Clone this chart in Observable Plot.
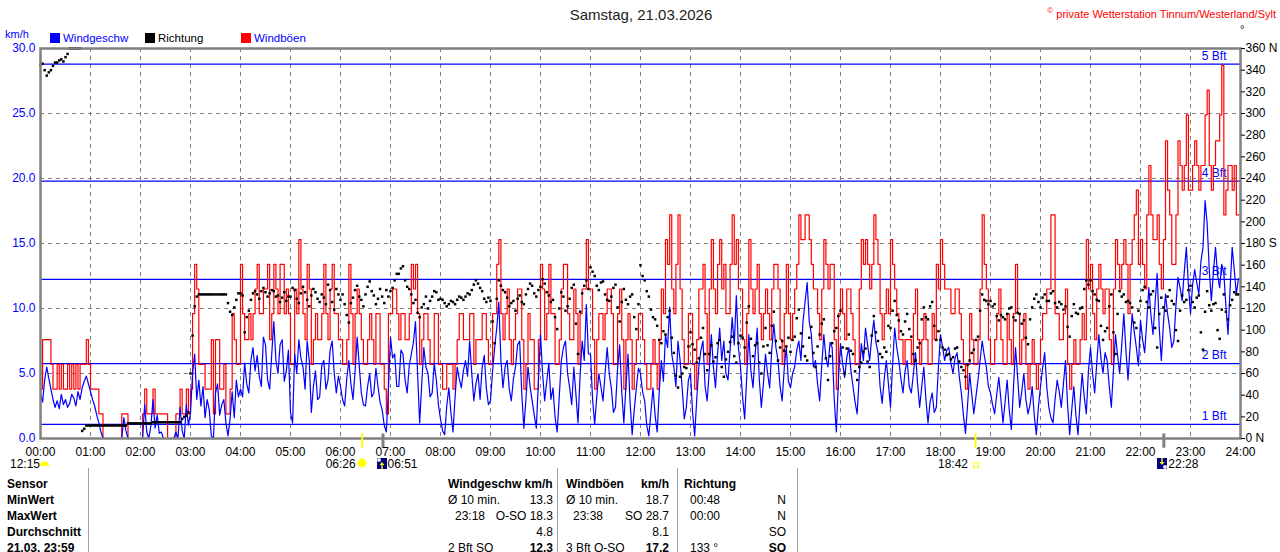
<!DOCTYPE html>
<html><head><meta charset="utf-8">
<script src="https://cdn.jsdelivr.net/npm/d3@7"></script>
<script src="https://cdn.jsdelivr.net/npm/@observablehq/plot@0.6"></script>
<style>
body{margin:0;background:#fff;font-family:"Liberation Sans",Arial,sans-serif;}
#wrap{position:relative;width:1280px;height:552px;overflow:hidden;background:#fff}
.abs{position:absolute;white-space:nowrap;line-height:14px}
#wrap svg{position:absolute;left:0;top:0;overflow:visible}
.b{font-weight:bold}
.sep{position:absolute;width:1px;background:#a0a0a0;top:468px;height:84px}
</style></head><body><div id="wrap"></div>
<script>
// wind and gust: 2.5-minute samples 00:00 .. 23:57.5 (one row per hour)
const speedStep = 2.5;
const windSpeed = [
 3.5,2.8,4.5,5.5,4.6,3.8,3.0,2.4,2.9,2.3,3.4,2.6,3.0,2.4,2.7,3.4,3.1,2.5,3.6,3.0,3.9,4.4,4.8,4.2,
 3.6,3.0,2.5,1.8,1.2,0.5,0,0,0,0,0,0,0,0,0,0,1.6,0.6,0,0,0,0,0,0,
 0,0,2.6,0.5,0,1.0,3.0,0.8,1.8,0.4,0.5,0,0,0,0,0,0,0.5,0,2.4,0.6,0,2.6,1.0,
 2.0,5.0,6.5,3.0,4.5,2.5,4.0,1.6,3.0,2.2,0.2,0,3.5,4.2,1.8,2.6,3.0,1.2,0.2,1.5,3.6,1.6,4.5,3.2,
 3.8,3.2,5.8,4.2,3.5,6.0,7.0,5.2,6.4,4.8,4.0,7.8,7.2,4.5,3.8,6.5,9.0,6.0,5.0,7.2,7.6,4.4,5.2,6.8,
 2.0,1.2,6.5,5.0,7.6,6.2,5.5,3.8,7.5,6.0,2.0,4.0,5.2,3.0,3.2,5.6,6.0,3.8,4.5,6.8,7.5,5.0,3.5,4.8,
 4.0,3.0,2.5,4.6,6.0,4.2,3.0,5.2,7.8,5.6,3.5,2.6,2.5,4.0,5.0,3.2,3.5,5.4,4.0,2.8,2.2,1.0,0.5,3.8,
 7.8,6.2,6.5,4.0,4.0,6.8,6.5,4.5,3.5,5.6,6.5,7.4,9.0,5.0,1.2,4.2,7.0,5.5,5.0,3.2,3.5,5.8,4.5,2.6,
 1.5,0.6,0.3,2.5,3.9,2.0,0.5,3.2,5.5,4.6,3.9,5.2,6.0,4.8,7.5,5.0,2.9,4.2,5.0,3.0,5.5,6.4,3.9,2.6,
 2.9,5.2,7.0,8.5,10.5,6.0,3.9,5.5,6.0,3.8,2.9,4.6,5.5,7.2,7.5,3.5,0.8,3.0,5.5,4.0,2.9,1.8,0.8,4.4,
 8.0,5.0,2.9,4.4,5.8,3.0,3.9,1.6,0.5,3.2,6.0,7.0,7.5,5.0,3.9,2.6,5.5,3.4,1.2,4.8,7.5,6.0,10.3,6.5,
 6.5,3.0,1.1,3.2,5.0,4.0,2.9,5.0,7.0,5.0,3.9,2.0,2.4,5.4,7.2,3.6,1.2,4.0,6.5,2.8,0.3,2.2,3.9,5.4,
 5.0,3.6,2.9,1.0,0.2,2.0,3.9,1.8,0.5,3.6,6.0,4.4,8.0,7.0,10.1,6.5,5.5,4.0,7.5,6.0,3.9,1.5,2.4,4.5,
 5.0,2.0,0.2,3.0,5.5,6.8,7.5,4.0,2.9,5.2,8.0,5.5,3.9,6.5,8.5,6.0,7.5,5.0,4.5,6.8,9.3,7.2,11.0,7.0,
 5.5,3.2,1.5,4.8,8.0,5.2,3.9,6.4,8.5,4.6,2.4,4.2,6.5,5.0,3.9,6.8,8.8,7.0,6.0,4.0,2.9,5.4,7.0,4.4,
 3.9,5.0,5.5,6.8,7.5,6.0,9.0,10.5,12.0,9.0,8.0,5.5,6.0,4.2,2.9,5.6,8.0,6.2,5.5,7.4,7.0,3.0,0.5,4.5,
 7.3,5.8,4.7,6.2,7.0,5.2,4.0,2.8,1.9,4.8,7.3,6.0,8.5,7.2,6.0,7.8,9.1,7.4,6.6,4.0,2.7,4.6,6.0,4.2,
 2.4,5.6,8.5,7.0,6.0,4.6,3.5,5.2,6.0,4.0,3.5,5.0,6.6,4.2,2.4,4.0,5.5,3.0,1.2,2.8,3.5,2.0,2.4,5.5,
 8.0,7.0,6.0,6.8,7.0,5.8,5.0,6.2,6.6,4.8,3.5,1.8,0.4,2.6,5.0,3.4,1.9,3.2,4.5,6.0,7.5,6.4,5.5,4.0,
 3.5,2.6,1.9,3.4,4.7,3.0,1.2,2.8,4.5,2.2,0.7,3.8,7.0,4.8,2.4,3.6,5.0,3.0,1.9,2.6,4.0,1.8,0.3,2.4,
 4.0,5.4,6.6,4.0,2.4,1.6,1.2,3.0,4.5,3.6,2.4,4.2,6.0,2.6,0.3,2.2,4.0,1.8,0.3,2.8,5.0,3.2,1.9,5.2,
 7.0,5.0,3.5,5.8,8.0,6.2,5.0,6.6,6.0,4.0,2.4,5.2,8.0,6.4,5.0,7.2,9.6,6.8,4.5,7.0,9.6,8.2,7.0,5.6,
 9.1,7.6,6.6,9.0,11.6,9.5,8.0,10.4,12.7,8.5,6.0,8.8,11.1,9.6,8.5,7.0,7.5,10.2,12.4,11.6,10.6,12.8,14.7,11.8,
 9.6,11.8,13.0,12.0,11.1,13.6,14.7,18.3,16.5,13.0,10.6,12.8,14.7,12.6,11.6,13.4,12.7,10.2,8.0,11.5,14.7,13.0,11.1,12.3
];
const gusts = [
 3.8,7.6,7.6,7.6,7.6,5.7,3.8,3.8,5.7,3.8,5.7,3.8,3.8,5.7,3.8,5.7,3.8,5.7,3.8,5.7,5.7,5.7,7.6,5.7,
 3.8,3.8,3.8,3.8,1.9,1.9,0,0,0,0,0,0,0,0,0,1.9,1.9,1.9,0,0,0,0,0,0,
 0,1.9,3.8,1.9,1.9,1.9,3.8,1.9,1.9,1.9,1.9,1.9,1.9,0,0,0,0,1.9,1.9,3.8,1.9,1.9,3.8,1.9,
 3.8,9.6,13.4,11.5,5.7,5.7,5.7,3.8,3.8,3.8,7.6,1.9,7.6,7.6,3.8,3.8,5.7,1.9,1.9,3.8,9.6,7.6,5.7,5.7,
 13.4,9.6,7.6,7.6,9.6,7.6,9.6,11.5,13.4,9.6,9.6,11.5,11.5,13.4,7.6,9.6,13.4,11.5,9.6,13.4,13.4,9.6,11.5,9.6,
 5.7,5.7,11.5,9.6,15.3,11.5,9.6,7.6,13.4,11.5,5.7,7.6,9.6,7.6,7.6,9.6,13.4,9.6,7.6,11.5,13.4,9.6,9.6,7.6,
 7.6,5.7,5.7,7.6,13.4,9.6,5.7,9.6,11.5,9.6,7.6,5.7,5.7,7.6,9.6,7.6,5.7,9.6,9.6,5.7,5.7,3.8,1.9,9.6,
 9.6,11.5,11.5,9.6,7.6,9.6,9.6,7.6,7.6,9.6,13.4,11.5,13.4,9.6,5.7,7.6,9.6,9.6,7.6,5.7,5.7,9.6,9.6,5.7,
 5.7,3.8,3.8,5.7,5.7,5.7,3.8,5.7,7.6,9.6,9.6,7.6,7.6,7.6,9.6,9.6,5.7,7.6,7.6,7.6,9.6,9.6,7.6,5.7,
 5.7,9.6,9.6,13.4,15.3,9.6,7.6,9.6,11.5,7.6,5.7,7.6,9.6,11.5,11.5,7.6,3.8,5.7,9.6,7.6,7.6,3.8,3.8,7.6,
 13.4,11.5,7.6,9.6,13.4,9.6,9.6,5.7,5.7,7.6,11.5,13.4,13.4,9.6,7.6,7.6,11.5,9.6,5.7,9.6,11.5,11.5,15.3,11.5,
 11.5,7.6,3.8,7.6,9.6,9.6,7.6,9.6,11.5,11.5,9.6,5.7,5.7,9.6,11.5,7.6,3.8,7.6,9.6,7.6,3.8,5.7,7.6,9.6,
 9.6,7.6,5.7,3.8,3.8,5.7,7.6,5.7,3.8,7.6,11.5,9.6,15.3,13.4,17.2,11.5,9.6,13.4,17.2,11.5,7.6,5.7,5.7,9.6,
 9.6,5.7,3.8,7.6,11.5,11.5,13.4,9.6,5.7,11.5,15.3,11.5,9.6,13.4,15.3,11.5,13.4,9.6,9.6,13.4,17.2,13.4,15.3,11.5,
 11.5,7.6,5.7,9.6,15.3,11.5,9.6,11.5,13.4,9.6,7.6,9.6,11.5,9.6,7.6,11.5,13.4,13.4,11.5,7.6,5.7,9.6,13.4,9.6,
 7.6,9.6,11.5,13.4,17.2,15.3,15.3,17.2,17.2,15.3,13.4,11.5,11.5,9.6,7.6,11.5,15.3,13.4,11.5,13.4,13.4,7.6,3.8,9.6,
 11.5,9.6,7.6,11.5,11.5,9.6,7.6,5.7,5.7,11.5,15.3,13.4,15.3,13.4,11.5,13.4,17.2,15.3,13.4,9.6,7.6,9.6,11.5,9.6,
 15.3,13.4,11.5,9.6,7.6,7.6,5.7,7.6,7.6,7.6,5.7,9.6,11.5,7.6,5.7,7.6,9.6,7.6,5.7,5.7,9.6,7.6,13.4,11.5,
 15.3,13.4,11.5,11.5,11.5,9.6,9.6,11.5,11.5,9.6,7.6,5.7,3.8,5.7,9.6,7.6,5.7,5.7,7.6,11.5,17.2,13.4,11.5,7.6,
 5.7,5.7,7.6,9.6,11.5,7.6,5.7,5.7,9.6,7.6,5.7,9.6,13.4,9.6,5.7,7.6,9.6,5.7,3.8,5.7,7.6,5.7,3.8,5.7,
 7.6,9.6,9.6,11.5,11.5,17.2,17.2,9.6,9.6,7.6,7.6,9.6,11.5,5.7,3.8,5.7,7.6,5.7,5.7,7.6,9.6,7.6,15.3,11.5,
 13.4,9.6,7.6,11.5,13.4,11.5,9.6,11.5,11.5,7.6,5.7,11.5,15.3,13.4,11.5,13.4,15.3,13.4,9.6,13.4,15.3,17.2,19.1,13.4,
 15.3,13.4,11.5,17.2,21.0,17.2,15.3,15.3,17.2,13.4,11.5,15.3,22.9,19.1,17.2,13.4,13.4,17.2,22.9,21.0,19.1,21.0,24.9,19.1,
 19.1,21.0,22.9,21.0,19.1,21.0,21.0,24.9,26.8,21.0,19.1,21.0,22.9,22.9,24.9,28.7,17.2,19.1,21.0,21.0,19.1,21.0,17.2,17.2
];
// wind direction: 2.5-minute samples (degrees)
const dirStep = 2.5;
const direction = [
 345,346,340,335,338,340,344,347,347,349,350,348,352,355,360,360,360,360,360,360,7,9,12,12,
 12,12,12,12,12,12,12,12,12,12,12,12,12,12,12,12,12,12,14,14,14,14,14,14,
 14,14,14,14,14,14,15,15,15,15,15,15,15,15,15,15,15,15,15,15,18,20,21,24,
 60,95,122,131,133,133,133,133,133,133,133,133,133,133,133,133,133,133,125,117,114,121,128,134,
 134,132,98,112,118,128,134,136,133,129,136,139,135,131,134,137,136,131,132,126,130,135,127,131,
 131,139,137,129,125,134,140,135,128,122,132,138,135,129,126,133,130,124,142,137,126,119,138,133,
 128,133,124,114,107,125,130,137,141,131,128,122,133,140,145,136,132,124,129,138,131,125,137,131,
 136,139,146,152,152,157,159,146,140,138,133,125,128,116,112,121,124,131,120,127,131,136,135,128,
 129,128,125,122,124,127,126,124,128,131,130,128,131,134,133,137,142,146,143,139,136,129,126,130,
 127,108,88,129,146,141,137,135,130,122,125,127,118,129,132,126,124,133,138,143,141,134,131,137,
 140,147,143,135,132,126,128,112,101,120,135,131,118,122,129,139,142,106,78,117,134,141,146,138,
 158,154,150,141,137,144,145,133,128,127,131,139,142,121,108,126,138,128,124,131,133,112,101,124,
 160,150,146,136,131,119,112,110,104,91,88,99,96,112,118,93,79,58,47,57,60,66,65,85,
 98,87,82,70,74,93,102,78,63,78,86,71,75,88,91,66,57,73,80,89,94,76,70,88,
 95,93,84,107,122,92,76,86,88,70,60,85,102,86,79,104,117,90,72,84,90,81,85,93,
 80,91,94,111,119,97,85,76,72,93,103,79,66,85,96,106,110,74,54,76,88,99,102,113,
 118,84,60,83,96,81,78,62,54,66,70,80,83,71,66,95,113,98,90,78,75,84,80,104,
 102,118,127,114,109,99,96,108,115,101,94,78,72,84,88,110,121,112,110,122,126,104,91,99,
 91,84,82,77,78,73,75,83,84,71,66,63,57,68,72,79,82,91,94,118,133,128,127,124,
 127,122,124,113,109,114,112,110,115,120,121,112,109,116,115,106,109,93,87,110,121,129,133,126,
 121,130,133,127,127,134,136,125,121,126,124,119,122,103,94,113,124,116,115,120,121,138,146,142,
 146,136,133,128,127,104,91,99,102,122,133,98,78,115,136,131,133,126,127,125,121,107,102,118,
 127,137,140,126,121,133,136,102,84,115,130,121,118,131,137,127,124,100,90,118,132,126,128,137,
 141,126,121,130,132,98,82,117,136,123,118,124,125,100,92,119,133,117,110,123,128,135,133,133
];
const hourLabels = ["00:00","01:00","02:00","03:00","04:00","05:00","06:00","07:00","08:00","09:00","10:00","11:00","12:00","13:00","14:00","15:00","16:00","17:00","18:00","19:00","20:00","21:00","22:00","23:00","24:00"];
const speedTicks = [0,5,10,15,20,25,30];
const dirTicks = [0,20,40,60,80,100,120,140,160,180,200,220,240,260,280,300,320,340,360];
const dirLabels = ["0 N","20","40","60","80","100","120","140","160","180 S","200","220","240","260","280","300","320","340","360 N"];
const beaufortKmh = [1.08, 5.76, 12.24, 19.8, 28.8];
const beaufortLabels = ["1 Bft","2 Bft","3 Bft","4 Bft","5 Bft"];
const astroTimes = ["06:26","06:51","18:42","22:28"];
const astroKinds = ["sunrise","moonrise","sunset","moonset"];
const moonNote = "12:15";
const titleText = "Samstag, 21.03.2026";
const creditText = "© private Wetterstation Tinnum/Westerland/Sylt";
const legendNames = ["Windgeschw","Richtung","Windböen"];
const tableRowLabels = ["Sensor","MinWert","MaxWert","Durchschnitt","21.03. 23:59"];
const windCol = [["Ø 10 min.","13.3"],["23:18","O-SO 18.3"],["","4.8"],["2 Bft SO","12.3"]];
const gustCol = [["Ø 10 min.","18.7"],["23:38","SO 28.7"],["","8.1"],["3 Bft O-SO","17.2"]];
const dirCol = [["00:48","N"],["00:00","N"],["","SO"],["133 °","SO"]];

const toMin = s => { const [h,m] = s.split(":").map(Number); return h*60+m; };
const windRows = windSpeed.map((v,i)=>({t:i*speedStep, v}));
const gustRows = gusts.map((v,i)=>({t:i*speedStep, v}));
const dirRows = direction.map((d,i)=>({t:i*dirStep, d}));
const hourTicks = hourLabels.map((_,i)=>i*60);
const bftRows = beaufortKmh.map((v,i)=>({v, label:beaufortLabels[i]}));
const astroRows = astroTimes.map((s,i)=>({t:toMin(s), kind:astroKinds[i], s}));
const FONT = '"Liberation Sans", Arial, sans-serif';

const chart = Plot.plot({
  width: 1280, height: 470,
  marginLeft: 40, marginRight: 40, marginTop: 48, marginBottom: 32,
  x: {domain:[0,1440], axis:null},
  y: {domain:[0,30], axis:null},
  style: {fontFamily: FONT, fontSize:"12px", background:"transparent", overflow:"visible"},
  marks: [
    Plot.ruleX(hourTicks.slice(1,-1), {stroke:"#808080", strokeDasharray:"4,4", strokeWidth:1}),
    Plot.ruleY(speedTicks.slice(1,-1), {stroke:"#808080", strokeDasharray:"4,4", strokeWidth:1}),
    Plot.ruleY(bftRows, {y:"v", stroke:"#0000ff", strokeWidth:1.3}),
    Plot.text(bftRows, {x:1440, y:"v", text:"label", dx:-14, dy:-8, textAnchor:"end", fill:"#0000ff", fontSize:12}),
    Plot.line(gustRows, {x:"t", y:"v", stroke:"#ff0000", strokeWidth:1.2, curve:"step-after"}),
    Plot.line(windRows, {x:"t", y:"v", stroke:"#0000ff", strokeWidth:1.2}),
    Plot.dot(dirRows, {x:"t", y:d=>d.d/12, symbol:"square", r:1.4, fill:"#000", stroke:null}),
    Plot.frame({stroke:"#808080", strokeWidth:2.5}),
    Plot.ruleX(astroRows, {x:"t", y1:-0.75, y2:0.35, stroke:d=>d.kind.startsWith("sun")?"#ffff00":"#808080", strokeWidth:d=>d.kind.startsWith("sun")?2:3}),
    Plot.axisX({ticks:hourTicks, tickFormat:d=>hourLabels[Math.round(d/60)], tickSize:0, tickPadding:9, label:null, color:"#000", fontSize:12}),
    Plot.axisY({anchor:"left", ticks:speedTicks, tickFormat:d=>d.toFixed(1), tickSize:0, tickPadding:5, label:null, color:"#0000ff", fontSize:12}),
    Plot.axisY({anchor:"right", ticks:dirTicks.map(d=>d/12), tickFormat:v=>dirLabels[Math.round(v*12/20)], tickSize:4, tickPadding:1, label:null, color:"#000", fontSize:12})
  ]
});
const wrap = document.getElementById("wrap");
wrap.appendChild(chart);
const xs = chart.scale("x");

function add(html, css, cls){ const d=document.createElement("div"); d.className="abs "+(cls||""); d.innerHTML=html; Object.assign(d.style, css); wrap.appendChild(d); return d; }

add(titleText, {left:"0px", width:"1282px", textAlign:"center", top:"6px", fontSize:"15px", color:"#222", lineHeight:"18px"});
add(creditText.replace("©","<sup style='font-size:8px'>©</sup>"), {right:"4px", top:"4px", fontSize:"11px", color:"#ff0000"});
add("°", {left:"1240px", top:"22px", fontSize:"11px", color:"#000"});
add("km/h", {left:"5px", top:"27px", fontSize:"11px", color:"#0000ff"});
const legendColors = ["#0000ff","#000000","#ff0000"];
const legendText = ["#0000ff","#000000","#0000ff"];
const legendX = [50,145,241];
legendNames.forEach((n,i)=>{
  add("", {left:legendX[i]+"px", top:"33px", width:"10px", height:"10px", background:legendColors[i]});
  add(n, {left:(legendX[i]+13)+"px", top:"31px", fontSize:"11.5px", color:legendText[i]});
});

// sun / moon events below the time axis
const sunIcon = `<svg width="12" height="12" viewBox="0 0 12 12"><g stroke="#ffff66" stroke-width="1"><line x1="6" y1="0" x2="6" y2="12"/><line x1="0" y1="6" x2="12" y2="6"/><line x1="2" y1="2" x2="10" y2="10"/><line x1="10" y1="2" x2="2" y2="10"/></g><circle cx="6" cy="6" r="4" fill="#ffff00"/></svg>`;
const moonIcon = up => `<svg width="10" height="11" viewBox="0 0 10 11"><rect width="10" height="11" fill="#000080"/><circle cx="${up?2:8}" cy="${up?2:9}" r="2" fill="#e8e8ff"/><path d="${up?'M5 4 L2.5 7 L4.3 7 L4.3 11 L5.7 11 L5.7 7 L7.5 7 Z':'M5 7 L2.5 4 L4.3 4 L4.3 0 L5.7 0 L5.7 4 L7.5 4 Z'}" fill="#ffff00"/></svg>`;
const evCss = {top:"458px", fontSize:"12px", lineHeight:"12px"};
astroRows.forEach(r=>{
  const x = xs.apply(r.t);
  if (r.kind==="sunrise") {
    add(r.s, Object.assign({left:(x-36)+"px", width:"29px", textAlign:"right"}, evCss));
    add(sunIcon, {left:(x-6)+"px", top:"457px", lineHeight:"0"});
  } else if (r.kind==="sunset") {
    add(r.s, Object.assign({left:(x-37)+"px", width:"30px", textAlign:"right"}, evCss));
    add("", {left:(x-2)+"px", top:"462px", width:"4px", height:"4px", border:"1px solid #ffff00"});
  } else {
    add(moonIcon(r.kind==="moonrise"), {left:(x-6)+"px", top:"458px", lineHeight:"0"});
    add(r.s, Object.assign({left:(x+5)+"px"}, evCss));
  }
});
add(moonNote, Object.assign({left:"10px"}, evCss));
add(`<svg width="9" height="6"><path d="M0 6 A4.5 4.5 0 0 1 9 6 Z" fill="#ffff00"/></svg>`, {left:"40px", top:"460px", lineHeight:"0"});

// statistics table
const rowTop = [477,493,509,525,541];
tableRowLabels.forEach((l,i)=>add(l, {left:"7px", top:rowTop[i]+"px", fontSize:"12px"}, "b"));
[88,557,677,797].forEach(x=>{ const d=document.createElement("div"); d.className="sep"; d.style.left=x+"px"; wrap.appendChild(d); });
add("Windgeschw km/h", {left:"448px", top:rowTop[0]+"px", fontSize:"12px"}, "b");
add("Windböen", {left:"566px", top:rowTop[0]+"px", fontSize:"12px"}, "b");
add("km/h", {left:"619px", width:"50px", textAlign:"right", top:rowTop[0]+"px", fontSize:"12px"}, "b");
add("Richtung", {left:"684px", top:rowTop[0]+"px", fontSize:"12px"}, "b");
function col(data, leftX, indent, rightX){
  data.forEach((row,i)=>{
    const top = rowTop[i+1]+"px";
    const last = i===data.length-1;
    if(row[0]) add(row[0], {left:(leftX + (i===1?indent:0))+"px", top, fontSize:"12px"});
    add(row[1], {left:(rightX-100)+"px", width:"100px", textAlign:"right", top, fontSize:"12px"}, last?"b":"");
  });
}
col(windCol, 448, 7, 553);
col(gustCol, 566, 7, 669);
col(dirCol, 690, 0, 786);
</script></body></html>
